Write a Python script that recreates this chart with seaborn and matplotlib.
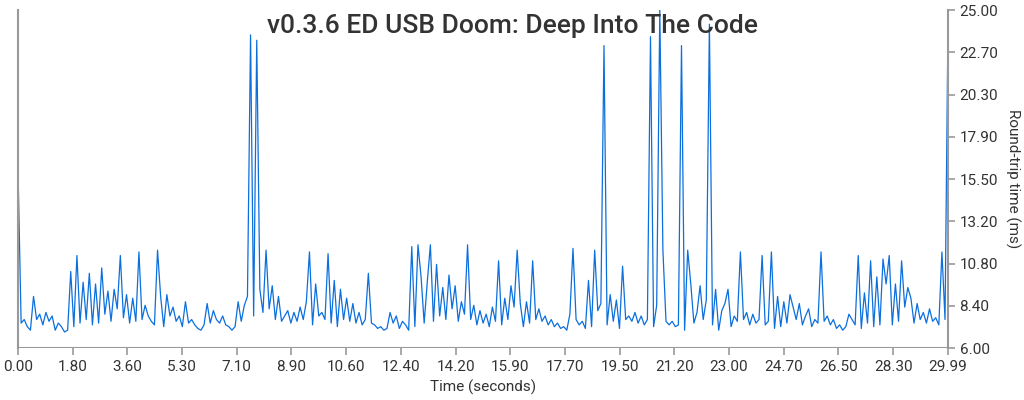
import math
import numpy as np
import pandas as pd
import seaborn as sns
import matplotlib
matplotlib.use("Agg")
import matplotlib.pyplot as plt

# ============================================================
# DATA (~0.1 s resolution)
# ============================================================

rtt_ms = [
    16.0, 7.4, 7.6, 7.2, 7.0, 8.9, 7.6, 7.9, 7.3, 8.0,
    7.5, 7.8, 7.0, 7.4, 7.2, 6.9, 7.0, 10.3, 7.2, 11.2,
    7.4, 9.7, 7.6, 10.2, 7.3, 9.6, 7.4, 10.5, 7.9, 9.2,
    7.5, 9.3, 8.2, 11.2, 7.7, 9.0, 7.4, 8.8, 7.5, 11.4,
    7.6, 8.4, 7.8, 7.5, 7.3, 11.5, 8.9, 7.2, 9.0, 7.8,
    8.3, 7.5, 7.8, 7.2, 8.6, 7.4, 7.6, 7.3, 7.1, 7.0,
    7.3, 8.5, 7.4, 8.1, 7.6, 7.4, 7.8, 7.3, 7.2, 7.0,
    7.2, 8.6, 7.5, 8.4, 8.9, 23.6, 7.8, 23.3, 9.3, 8.0,
    11.5, 8.2, 9.5, 7.6, 8.9, 7.5, 7.8, 8.1, 7.4, 8.0,
    7.5, 8.3, 7.6, 8.6, 11.4, 7.3, 9.6, 7.8, 8.0, 7.6,
    11.3, 7.4, 9.8, 7.2, 9.3, 7.6, 8.8, 7.5, 8.5, 7.4,
    8.0, 7.3, 7.6, 10.2, 7.4, 7.3, 7.1, 7.2, 7.0, 7.1,
    8.0, 7.4, 7.8, 7.1, 7.5, 7.3, 7.0, 11.7, 7.2, 11.8,
    10.0, 7.4, 9.7, 11.8, 7.5, 10.7, 7.8, 9.4, 7.6, 10.1,
    8.2, 9.5, 7.5, 8.6, 7.9, 11.8, 7.6, 8.4, 7.3, 8.1,
    7.4, 7.9, 7.2, 8.3, 7.5, 10.9, 7.3, 8.8, 7.6, 9.5,
    8.3, 11.5, 8.5, 7.2, 8.6, 7.4, 10.9, 7.6, 8.2, 7.5,
    7.8, 7.3, 7.6, 7.2, 7.4, 7.1, 7.2, 7.0, 7.9, 11.6,
    7.6, 7.3, 7.5, 7.1, 9.8, 7.2, 11.5, 8.1, 8.5, 23.0,
    7.3, 9.0, 7.5, 8.7, 7.1, 10.6, 7.6, 7.8, 7.5, 8.0,
    7.4, 7.8, 7.3, 7.6, 23.5, 7.2, 8.4, 25.0, 11.5, 7.5,
    7.3, 7.5, 7.2, 7.3, 23.0, 7.0, 11.5, 9.6, 7.4, 8.0,
    9.5, 7.6, 8.7, 24.2, 7.3, 9.3, 7.0, 8.1, 8.5, 9.3,
    7.2, 7.8, 7.5, 11.4, 7.6, 8.0, 7.3, 7.9, 7.4, 7.6,
    11.2, 7.3, 7.5, 11.4, 7.1, 8.9, 7.2, 8.6, 7.4, 9.0,
    8.3, 7.6, 8.5, 7.3, 7.8, 8.2, 7.2, 7.6, 7.4, 11.4,
    7.5, 7.8, 7.3, 7.6, 7.1, 7.3, 7.0, 7.2, 7.9, 7.6,
    7.3, 11.2, 7.1, 9.1, 7.4, 10.9, 7.2, 10.0, 7.3, 11.0,
    9.6, 11.2, 7.3, 9.6, 7.5, 10.9, 8.3, 9.4, 8.8, 7.4,
    8.5, 7.6, 8.0, 7.4, 8.2, 7.5, 7.7, 7.3, 11.4, 7.6,
    23.1,
]
time_s = [round(i * 0.1, 2) for i in range(len(rtt_ms) - 1)] + [29.99]

T_MAX = 29.99
Y_MIN, Y_MAX = 6.0, 25.0

df = pd.DataFrame({"time": time_s, "rtt": rtt_ms})

# ============================================================
# PLOT
# ============================================================

sns.set_style("white")
plt.rcParams["font.family"] = ["Roboto", "DejaVu Sans"]

fig = plt.figure(figsize=(10.24, 4), dpi=100)
ax = fig.add_axes([0.0176, 0.13, 0.908, 0.845])

sns.lineplot(data=df, x="time", y="rtt", ax=ax, color="#0b6fde", linewidth=0.9)

ax.set_xlim(0, T_MAX)
ax.set_ylim(Y_MIN, Y_MAX)

# ticks: evenly spaced, labels rounded up to 0.1
xt = [T_MAX * i / 17 for i in range(18)]
xl = [f"{math.ceil(v * 10 - 1e-9) / 10:.2f}" for v in xt[:-1]] + [f"{T_MAX:.2f}"]
ax.set_xticks(xt)
ax.set_xticklabels(xl)
yt = [Y_MIN + (Y_MAX - Y_MIN) * i / 8 for i in range(9)]
yl = [f"{math.ceil(v * 10 - 1e-9) / 10:.2f}" for v in yt]
ax.set_yticks(yt)
ax.set_yticklabels(yl)

ax.yaxis.tick_right()
ax.yaxis.set_label_position("right")

for side in ["top", "bottom"]:
    ax.spines[side].set_visible(False)
for side in ["left", "right"]:
    ax.spines[side].set_color("#999999")
    ax.spines[side].set_linewidth(1.5)

ax.axhline(Y_MIN, color="#999999", linewidth=1.5)

ax.tick_params(axis="both", colors="#999999", labelcolor="#333333",
               labelsize=11, length=5, width=1.2, bottom=True, right=True)

ax.set_xlabel("Time (seconds)", fontsize=11, color="#333333")
ax.set_ylabel("Round-trip time (ms)", fontsize=11, color="#333333",
              rotation=270, labelpad=16)

fig.text(0.5, 0.935, "v0.3.6 ED USB Doom: Deep Into The Code", fontsize=19,
         fontweight="medium", color="#333333", ha="center", va="center")

fig.savefig("out.png", dpi=100)
